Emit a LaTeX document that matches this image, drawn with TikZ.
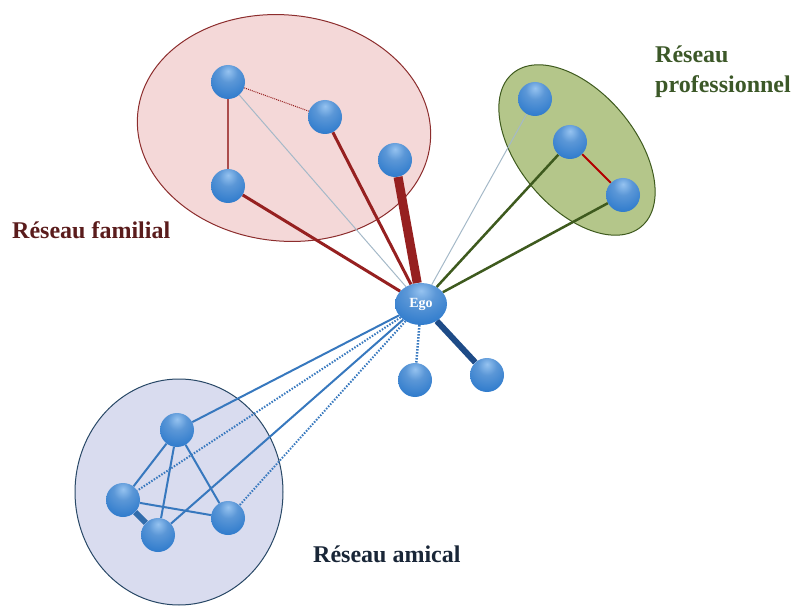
\documentclass[tikz,border=0pt]{standalone}
\usepackage{fontspec}
\setmainfont{Liberation Serif}
\usepackage{xcolor}
\usetikzlibrary{shapes.geometric,backgrounds}

\definecolor{ballblue}{RGB}{50,125,205}
\definecolor{ballhi}{RGB}{150,195,240}
\definecolor{fampink}{RGB}{244,216,216}
\definecolor{famline}{RGB}{140,45,45}
\definecolor{famred}{RGB}{150,32,32}
\definecolor{famtext}{RGB}{90,28,28}
\definecolor{progreen}{RGB}{180,198,138}
\definecolor{proline}{RGB}{62,90,30}
\definecolor{protext}{RGB}{60,88,40}
\definecolor{amiblue}{RGB}{217,220,239}
\definecolor{amiline}{RGB}{40,72,102}
\definecolor{amitext}{RGB}{25,38,55}
\definecolor{linkblue}{RGB}{55,120,190}
\definecolor{darkblue}{RGB}{30,75,135}
\definecolor{faint}{RGB}{165,185,200}

\pgfdeclareradialshading{sphere}{\pgfpoint{0bp}{16bp}}{%
  color(0bp)=(ballhi); color(14bp)=(ballblue!80!white); color(34bp)=(ballblue);
  color(58bp)=(ballblue!70!black); color(100bp)=(ballblue!70!black)}

\begin{document}
\begin{tikzpicture}[x=1pt,y=1pt,
    ball/.style={shape=circle, minimum size=34pt, inner sep=0pt, shading=sphere},
    ego/.style={shape=ellipse, minimum width=52pt, minimum height=42pt, inner sep=0pt,
        shading=sphere, text=white, font=\bfseries\fontsize{14}{14}\selectfont},
    tag/.style={font=\bfseries\fontsize{24}{30}\selectfont, align=left, inner sep=0pt},
    solid link/.style={draw=linkblue, line width=2pt},
    dot link/.style={draw=linkblue, line width=2pt, dash pattern=on 1.5pt off 1.5pt}]
    \useasboundingbox (0,0) rectangle (796,-607);

    % the egocentric network
    \node[ego] (Ego) at (421,-304) {Ego};

    \node[ball] (F1) at (228,-82) {};
    \node[ball] (F2) at (325,-117) {};
    \node[ball] (F3) at (228,-186) {};
    \node[ball] (F4) at (395,-160) {};

    \node[ball] (P1) at (535,-99) {};
    \node[ball] (P2) at (570,-142) {};
    \node[ball] (P3) at (623,-195) {};

    \node[ball] (L1) at (415,-380) {};
    \node[ball] (L2) at (487,-375) {};

    \node[ball] (A1) at (177,-430) {};
    \node[ball] (A2) at (123,-500) {};
    \node[ball] (A3) at (158,-535) {};
    \node[ball] (A4) at (228,-518) {};

    \node[tag, text=famtext, anchor=base west] (famlabel) at (12,-238) {Réseau familial};
    \node[tag, text=protext, anchor=base west] (prolabel) at (655,-93) {Réseau\\professionnel};
    \node[tag, text=amitext, anchor=base west] (amilabel) at (313,-562) {Réseau amical};

    \begin{pgfonlayer}{background}
    \draw[famline, fill=fampink, line width=1pt, rotate around={-6:(284,-128)}] (284,-128) ellipse (147 and 113);
    \draw[proline, fill=progreen, line width=1pt, rotate around={-50:(577,-150)}] (577,-150) ellipse (100 and 58);
    \draw[amiline, fill=amiblue, line width=1pt] (179,-492) ellipse (104 and 113);

    % family
    \draw[famred!80, line width=1.5pt] (F1) -- (F3);
    \draw[famred, line width=1pt, dash pattern=on 1pt off 1pt] (F1) -- (F2);
    \draw[faint, line width=1pt] (F1) -- (Ego);
    \draw[famred, line width=3pt] (F2) -- (Ego);
    \draw[famred, line width=3pt] (F3) -- (Ego);
    \draw[famred, line width=9pt] (F4) -- (Ego);
    % professional
    \draw[faint, line width=1pt] (P1) -- (Ego);
    \draw[proline, line width=2.5pt] (P2) -- (Ego);
    \draw[proline, line width=2.5pt] (P3) -- (Ego);
    \draw[red!70!black, line width=2pt] (P2) -- (P3);
    % loose ties
    \draw[dot link, line width=2.5pt] (Ego) -- (L1);
    \draw[darkblue, line width=6pt] (Ego) -- (L2);
    % friends
    \draw[solid link] (Ego) -- (A1);
    \draw[dot link] (Ego) -- (A2);
    \draw[solid link] (Ego) -- (A3);
    \draw[dot link] (Ego) -- (A4);
    \draw[solid link] (A1) -- (A2);
    \draw[solid link] (A1) -- (A3);
    \draw[solid link] (A1) -- (A4);
    \draw[solid link] (A2) -- (A4);
    \draw[linkblue!90!black, line width=6pt] (A2) -- (A3);
    \end{pgfonlayer}
\end{tikzpicture}
\end{document}
